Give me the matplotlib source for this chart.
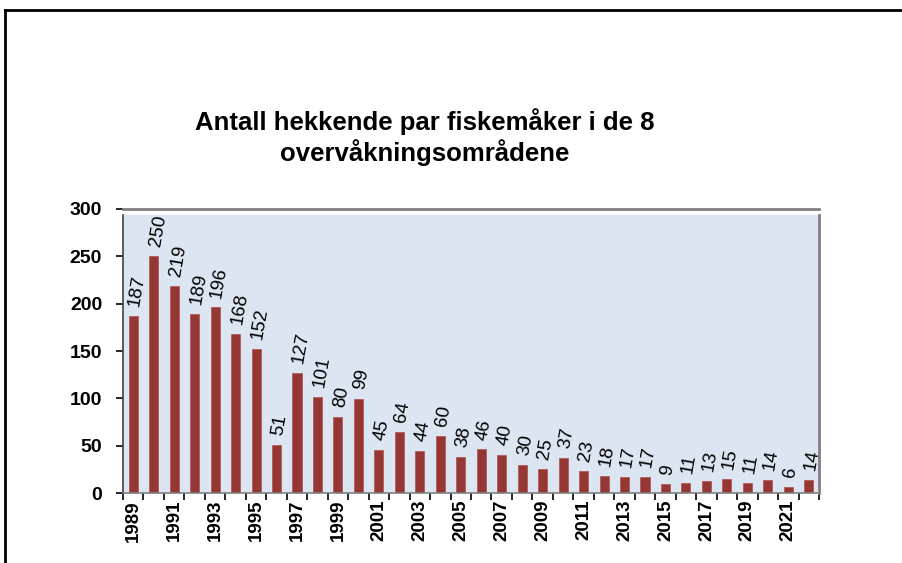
import numpy as np
import matplotlib.pyplot as plt
from matplotlib.lines import Line2D

years = list(range(1989, 2023))
pairs = [187, 250, 219, 189, 196, 168, 152, 51, 127, 101, 80, 99, 45, 64, 44, 60,
         38, 46, 40, 30, 25, 37, 23, 18, 17, 17, 9, 11, 13, 15, 11, 14, 6, 14]
title = 'Antall hekkende par fiskemåker i de 8\novervåkningsområdene'

plt.rcParams['font.family'] = ['Liberation Sans', 'DejaVu Sans']

fig = plt.figure(figsize=(9.03, 5.63), dpi=100)
W, H = 903.0, 563.0

# outer frame (only top and left visible)
fig.add_artist(Line2D([5/W, 1.0], [1-10/H, 1-10/H], color='black', lw=2, transform=fig.transFigure))
fig.add_artist(Line2D([5/W, 5/W], [1-10/H, 0.0], color='black', lw=2, transform=fig.transFigure))

fig.text(425/W, 1-137/H, title, ha='center', va='center', fontsize=18.5, fontweight='bold',
         linespacing=1.2)

ax = fig.add_axes([123/W, 70/H, 696/W, 284/H])
ax.set_facecolor('white')
x = np.arange(len(years))
ax.axhspan(0, 294, color='#dce6f2', zorder=0)
ax.bar(x, pairs, width=0.44, color='#953735', edgecolor='#b05a58', linewidth=0.6, zorder=2)

for xi, v in zip(x, pairs):
    ax.annotate(str(v), (xi, v), xytext=(1, 7), textcoords='offset points',
                rotation=80, rotation_mode='anchor', ha='left', va='center',
                fontsize=13.5, color='black')

ax.set_xlim(-0.5, len(years) - 0.5)
ax.set_ylim(0, 300)
ax.set_yticks(np.arange(0, 301, 50))
ax.set_xticks(x[::2])
ax.set_xticklabels([str(y) for y in years[::2]], rotation=90, fontweight='bold', fontsize=13.5)
ax.set_xticks(np.arange(-0.5, len(years), 1), minor=True)
ax.tick_params(axis='x', which='major', length=0, pad=5)
ax.tick_params(axis='x', which='minor', length=5, width=1.2, color='black', direction='out')
ax.tick_params(axis='y', length=5, width=1.2, direction='out', labelsize=14, pad=10)
for lab in ax.get_yticklabels():
    lab.set_fontweight('bold')

ax.spines['top'].set_color('#808080')
ax.spines['top'].set_linewidth(2)
ax.spines['right'].set_color('#808080')
ax.spines['right'].set_linewidth(2)
ax.spines['right'].set_bounds(0, 294)
ax.spines['left'].set_color('#404040')
ax.spines['left'].set_linewidth(1.2)
ax.spines['left'].set_bounds(0, 294)
ax.spines['bottom'].set_color('#808080')
ax.spines['bottom'].set_linewidth(1.2)

fig.savefig('out.png', dpi=100)
